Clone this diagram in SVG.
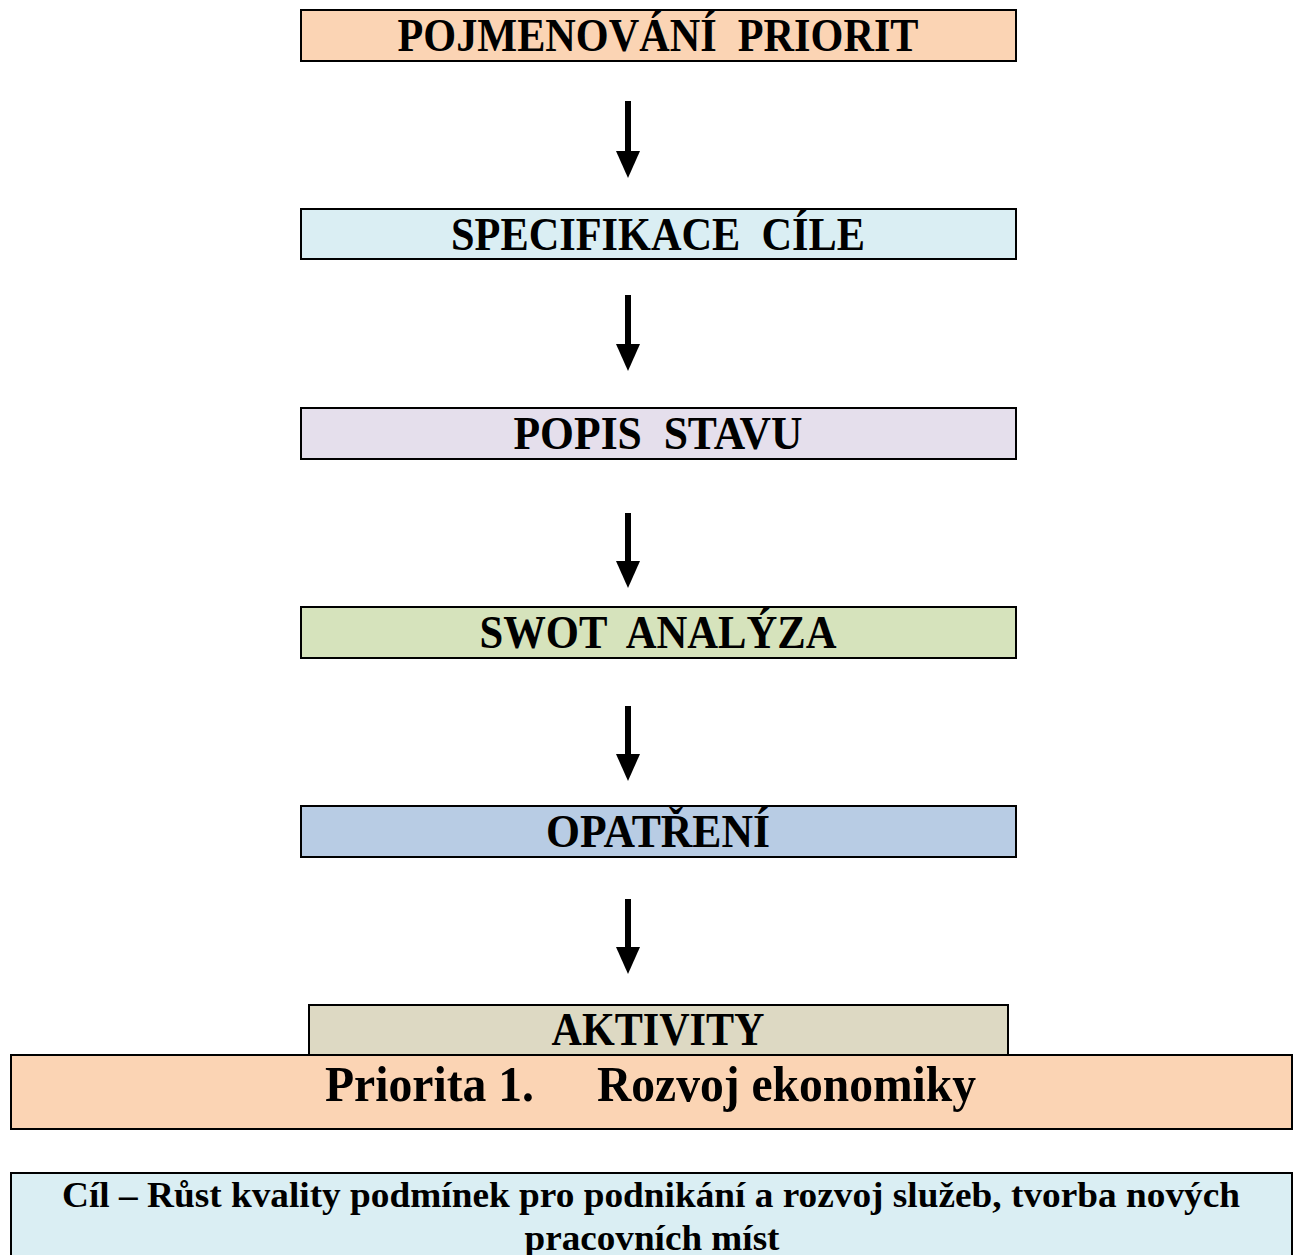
<svg xmlns="http://www.w3.org/2000/svg" width="1294" height="1255" viewBox="0 0 1294 1255">
<style>
.box{stroke:#000;stroke-width:2}
.t{font-family:"Liberation Serif","Times New Roman",serif;font-weight:bold;fill:#000;text-anchor:middle}
.big{font-size:46px}
.p{font-size:50px}
.c{font-size:35px}
</style>
<defs>
<marker id="ah" viewBox="0 0 27 24" refX="0" refY="12" markerWidth="27" markerHeight="24" markerUnits="userSpaceOnUse" orient="auto">
<path d="M0,0 L27,12 L0,24 Z" fill="#000"/>
</marker>
</defs>
<rect width="1294" height="1255" fill="#fff"/>
<g id="connectors" stroke="#000" stroke-width="6" fill="none">
<line x1="628" y1="101" x2="628" y2="151" marker-end="url(#ah)"/>
<line x1="628" y1="295" x2="628" y2="344" marker-end="url(#ah)"/>
<line x1="628" y1="513" x2="628" y2="561" marker-end="url(#ah)"/>
<line x1="628" y1="706" x2="628" y2="754" marker-end="url(#ah)"/>
<line x1="628" y1="899" x2="628" y2="947" marker-end="url(#ah)"/>
</g>
<g id="n1"><rect class="box" x="301" y="10" width="715" height="51" fill="#FBD4B4"/>
<text class="t big" x="658" y="51" textLength="521" lengthAdjust="spacingAndGlyphs" xml:space="preserve">POJMENOVÁNÍ  PRIORIT</text></g>
<g id="n2"><rect class="box" x="301" y="209" width="715" height="50" fill="#DAEEF3"/>
<text class="t big" x="658" y="250" textLength="414" lengthAdjust="spacingAndGlyphs" xml:space="preserve">SPECIFIKACE  CÍLE</text></g>
<g id="n3"><rect class="box" x="301" y="408" width="715" height="51" fill="#E5DFEC"/>
<text class="t big" x="658" y="449" textLength="289" lengthAdjust="spacingAndGlyphs" xml:space="preserve">POPIS  STAVU</text></g>
<g id="n4"><rect class="box" x="301" y="607" width="715" height="51" fill="#D6E3BC"/>
<text class="t big" x="658" y="648" textLength="357" lengthAdjust="spacingAndGlyphs" xml:space="preserve">SWOT  ANALÝZA</text></g>
<g id="n5"><rect class="box" x="301" y="806" width="715" height="51" fill="#B8CCE4"/>
<text class="t big" x="658" y="847" textLength="224" lengthAdjust="spacingAndGlyphs">OPATŘENÍ</text></g>
<g id="n6"><rect class="box" x="309" y="1005" width="699" height="55" fill="#DDD9C3"/>
<text class="t big" x="658" y="1045" textLength="213" lengthAdjust="spacingAndGlyphs">AKTIVITY</text></g>
<g id="n7"><rect class="box" x="11" y="1055" width="1281" height="74" fill="#FBD4B4"/>
<text class="t p" x="650" y="1101" style="text-anchor:start"><tspan x="325" textLength="209" lengthAdjust="spacingAndGlyphs">Priorita 1.</tspan><tspan x="597" textLength="379" lengthAdjust="spacingAndGlyphs">Rozvoj ekonomiky</tspan></text></g>
<g id="n8"><rect class="box" x="11" y="1173" width="1281" height="90" fill="#DAEEF3"/>
<text class="t c" x="651" y="1207" textLength="1178" lengthAdjust="spacingAndGlyphs">Cíl – Růst kvality podmínek pro podnikání a rozvoj služeb, tvorba nových</text>
<text class="t c" x="652" y="1250" textLength="255" lengthAdjust="spacingAndGlyphs">pracovních míst</text></g>
</svg>
